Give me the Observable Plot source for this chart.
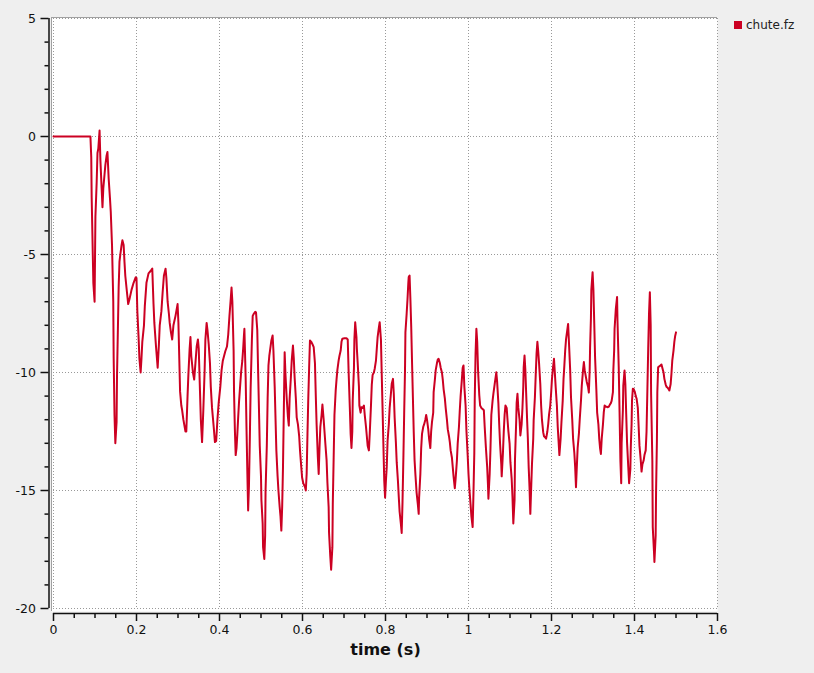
<!DOCTYPE html>
<html><head><meta charset="utf-8">
<script src="https://cdn.jsdelivr.net/npm/d3@7"></script>
<script src="https://cdn.jsdelivr.net/npm/@observablehq/plot@0.6"></script>
<style>
html,body{margin:0;padding:0;background:#efefef;overflow:hidden;}
#wrap{position:relative;width:814px;height:673px;font-family:"DejaVu Sans",sans-serif;}
#legend{position:absolute;left:734px;top:19px;height:12px;line-height:12px;display:flex;align-items:center;font-size:12px;color:#222;}
#legend .sw{width:8px;height:8px;margin-right:4px;}
</style></head><body><div id="wrap"><div id="legend"><span class="sw"></span><span id="lgtext"></span></div></div>
<script>
const seriesName = "chute.fz";
const xLabel = "time (s)";
const lineColor = "#cc0022";

// [time (s), chute.fz]
const chuteFz = [
[0,0],[0.089,0],[0.091,-0.9],[0.092,-2.6],[0.094,-4.4],[0.096,-6.2],[0.099,-7.0],[0.101,-3.4],[0.104,-1.95],[0.106,-0.7],[0.108,-0.5],[0.111,0.25],
[0.113,-1.0],[0.116,-2.2],[0.118,-3.0],[0.120,-2.2],[0.123,-1.6],[0.125,-1.2],[0.128,-0.8],[0.130,-0.66],[0.133,-1.8],[0.136,-2.6],[0.138,-3.2],
[0.141,-4.6],[0.144,-7.0],[0.145,-9.4],[0.147,-11.8],[0.149,-13.0],[0.152,-12.1],[0.153,-10.2],[0.155,-8.3],[0.157,-6.4],[0.159,-5.3],[0.161,-5.0],
[0.164,-4.6],[0.166,-4.4],[0.169,-4.6],[0.171,-5.3],[0.173,-5.9],[0.177,-6.6],[0.180,-7.1],[0.183,-6.9],[0.188,-6.5],[0.193,-6.2],[0.198,-5.97],
[0.200,-6.0],[0.202,-7.4],[0.205,-8.5],[0.207,-9.4],[0.210,-10.0],[0.212,-9.4],[0.214,-8.7],[0.218,-8.0],[0.220,-7.2],[0.224,-6.2],[0.229,-5.8],
[0.234,-5.7],[0.238,-5.6],[0.241,-7.1],[0.243,-7.9],[0.247,-8.9],[0.251,-9.8],[0.254,-8.8],[0.256,-8.0],[0.260,-7.4],[0.263,-6.6],[0.266,-5.9],
[0.270,-5.6],[0.272,-6.0],[0.275,-7.0],[0.278,-7.5],[0.280,-7.9],[0.283,-8.3],[0.286,-8.6],[0.289,-8.0],[0.294,-7.6],[0.299,-7.1],[0.301,-7.9],
[0.305,-10.8],[0.308,-11.4],[0.310,-11.6],[0.313,-12.0],[0.318,-12.5],[0.320,-12.5],[0.323,-11.0],[0.325,-10.1],[0.328,-9.0],[0.330,-8.5],
[0.332,-9.3],[0.336,-10.0],[0.339,-10.3],[0.342,-9.6],[0.345,-8.9],[0.348,-8.6],[0.350,-9.0],[0.353,-10.8],[0.355,-12.0],[0.358,-12.95],
[0.361,-11.6],[0.364,-10.0],[0.366,-8.6],[0.369,-7.9],[0.371,-8.2],[0.374,-8.8],[0.377,-9.6],[0.379,-10.6],[0.382,-11.5],[0.386,-12.3],
[0.389,-12.95],[0.392,-12.9],[0.395,-12.0],[0.398,-11.3],[0.402,-10.6],[0.405,-9.9],[0.408,-9.5],[0.411,-9.3],[0.414,-9.1],[0.418,-8.9],
[0.421,-8.4],[0.424,-7.6],[0.427,-6.9],[0.429,-6.4],[0.431,-7.0],[0.434,-9.07],[0.435,-10.8],[0.437,-12.4],[0.439,-13.5],[0.441,-13.2],
[0.443,-12.6],[0.445,-11.9],[0.447,-11.26],[0.450,-10.5],[0.452,-10.0],[0.455,-9.5],[0.457,-9.0],[0.459,-8.4],[0.460,-8.15],[0.463,-10.2],
[0.465,-12.3],[0.467,-14.15],[0.469,-15.85],[0.471,-14.8],[0.473,-12.9],[0.475,-10.7],[0.478,-8.64],[0.480,-7.6],[0.483,-7.5],[0.486,-7.43],
[0.488,-7.45],[0.491,-8.2],[0.493,-9.9],[0.495,-11.47],[0.497,-13.1],[0.500,-14.4],[0.501,-15.4],[0.504,-16.4],[0.505,-17.4],[0.508,-17.9],
[0.510,-16.9],[0.511,-15.0],[0.514,-13.1],[0.516,-11.1],[0.518,-9.7],[0.520,-9.3],[0.523,-8.9],[0.525,-8.64],[0.528,-8.43],[0.530,-9.1],
[0.533,-10.6],[0.535,-11.96],[0.537,-13.3],[0.540,-14.4],[0.542,-15.0],[0.545,-15.7],[0.547,-16.1],[0.549,-16.7],[0.551,-15.7],[0.553,-14.0],
[0.555,-11.6],[0.557,-9.14],[0.559,-10.1],[0.562,-11.1],[0.565,-11.9],[0.567,-12.25],[0.569,-11.1],[0.572,-10.2],[0.574,-9.5],[0.577,-8.86],
[0.579,-9.4],[0.581,-10.2],[0.584,-11.1],[0.586,-11.9],[0.589,-12.2],[0.592,-12.7],[0.594,-13.3],[0.597,-14.0],[0.599,-14.45],[0.602,-14.7],
[0.606,-14.85],[0.608,-15.0],[0.610,-14.3],[0.612,-12.6],[0.614,-11.05],[0.616,-9.8],[0.618,-8.64],[0.621,-8.7],[0.624,-8.8],[0.627,-8.93],
[0.630,-9.6],[0.632,-10.97],[0.634,-12.2],[0.637,-13.6],[0.639,-14.3],[0.641,-13.2],[0.643,-12.3],[0.646,-11.8],[0.648,-11.36],[0.651,-12.0],
[0.653,-12.5],[0.655,-13.0],[0.658,-13.7],[0.660,-14.65],[0.663,-15.7],[0.664,-16.8],[0.667,-17.8],[0.669,-18.36],[0.672,-17.4],[0.673,-15.56],
[0.675,-13.7],[0.677,-11.8],[0.680,-10.76],[0.682,-10.3],[0.684,-9.9],[0.687,-9.5],[0.689,-9.3],[0.692,-9.07],[0.694,-8.7],[0.696,-8.57],
[0.701,-8.55],[0.706,-8.55],[0.709,-8.6],[0.711,-9.9],[0.714,-11.47],[0.716,-12.6],[0.718,-13.2],[0.720,-12.5],[0.721,-11.2],[0.724,-9.8],
[0.725,-8.6],[0.727,-7.87],[0.730,-8.5],[0.731,-9.0],[0.733,-9.6],[0.736,-10.6],[0.737,-11.4],[0.740,-11.7],[0.742,-11.47],[0.745,-11.5],
[0.748,-11.4],[0.750,-11.8],[0.753,-12.3],[0.755,-12.7],[0.757,-13.1],[0.760,-13.3],[0.762,-12.6],[0.765,-11.4],[0.767,-10.5],[0.769,-10.1],
[0.772,-10.0],[0.774,-9.84],[0.777,-9.5],[0.779,-9.0],[0.781,-8.5],[0.784,-8.1],[0.786,-7.87],[0.789,-8.6],[0.791,-10.13],[0.793,-11.6],
[0.795,-13.1],[0.797,-14.6],[0.799,-15.3],[0.801,-14.6],[0.803,-14.0],[0.805,-12.9],[0.808,-12.2],[0.810,-11.5],[0.813,-10.9],[0.815,-10.48],
[0.818,-10.27],[0.820,-10.9],[0.822,-11.9],[0.825,-12.95],[0.827,-13.8],[0.830,-14.6],[0.832,-15.28],[0.834,-15.9],[0.837,-16.4],[0.839,-16.8],
[0.841,-15.5],[0.843,-13.7],[0.845,-11.75],[0.847,-9.9],[0.848,-8.3],[0.851,-7.5],[0.853,-6.9],[0.855,-6.2],[0.856,-5.95],[0.858,-5.89],
[0.860,-6.9],[0.862,-8.08],[0.864,-9.6],[0.866,-11.05],[0.868,-12.5],[0.870,-13.7],[0.872,-14.3],[0.875,-15.1],[0.878,-15.6],[0.880,-15.99],
[0.881,-15.3],[0.884,-14.3],[0.886,-13.2],[0.888,-12.6],[0.891,-12.3],[0.893,-12.2],[0.896,-12.0],[0.898,-11.8],[0.900,-12.0],[0.903,-12.4],
[0.905,-12.8],[0.908,-13.2],[0.910,-12.5],[0.912,-12.1],[0.915,-11.7],[0.916,-10.83],[0.919,-10.3],[0.921,-9.9],[0.924,-9.6],[0.926,-9.45],
[0.928,-9.42],[0.931,-9.6],[0.933,-9.8],[0.936,-10.0],[0.938,-10.3],[0.940,-10.7],[0.943,-11.1],[0.945,-11.5],[0.948,-12.0],[0.950,-12.4],
[0.953,-12.7],[0.955,-12.95],[0.957,-13.3],[0.960,-13.6],[0.962,-14.0],[0.964,-14.4],[0.967,-14.9],[0.969,-14.5],[0.972,-13.75],[0.974,-13.0],
[0.977,-12.3],[0.979,-11.6],[0.981,-11.0],[0.984,-10.3],[0.986,-9.8],[0.988,-9.7],[0.990,-10.6],[0.993,-11.4],[0.995,-12.46],[0.998,-13.5],
[1.000,-14.3],[1.002,-14.9],[1.005,-15.6],[1.007,-16.1],[1.010,-16.55],[1.012,-15.1],[1.014,-13.4],[1.015,-11.2],[1.017,-9.2],[1.019,-8.15],
[1.021,-8.7],[1.023,-9.9],[1.026,-10.97],[1.028,-11.4],[1.031,-11.5],[1.034,-11.55],[1.037,-11.6],[1.039,-12.3],[1.042,-13.2],[1.045,-14.0],
[1.047,-14.8],[1.048,-15.35],[1.051,-14.3],[1.053,-13.2],[1.055,-11.8],[1.058,-11.2],[1.060,-10.9],[1.063,-10.5],[1.067,-9.99],[1.069,-10.4],
[1.072,-11.3],[1.074,-12.2],[1.076,-13.0],[1.079,-13.9],[1.080,-14.4],[1.083,-13.4],[1.085,-12.5],[1.087,-11.8],[1.089,-11.4],[1.092,-11.5],
[1.094,-12.0],[1.096,-12.46],[1.099,-13.0],[1.101,-13.8],[1.104,-14.5],[1.106,-15.28],[1.108,-16.4],[1.111,-15.4],[1.112,-13.7],[1.115,-12.03],
[1.116,-11.3],[1.118,-10.9],[1.120,-11.5],[1.123,-12.0],[1.125,-12.67],[1.128,-12.2],[1.130,-11.5],[1.132,-10.6],[1.133,-9.78],[1.135,-9.28],
[1.137,-9.9],[1.139,-10.9],[1.141,-11.9],[1.143,-12.8],[1.145,-14.0],[1.147,-14.86],[1.149,-15.99],[1.151,-14.9],[1.153,-13.87],[1.156,-12.8],
[1.157,-12.03],[1.160,-11.05],[1.162,-10.1],[1.164,-9.2],[1.166,-8.7],[1.168,-9.1],[1.170,-9.6],[1.173,-10.48],[1.175,-11.4],[1.177,-12.0],
[1.180,-12.53],[1.182,-12.7],[1.185,-12.75],[1.187,-12.8],[1.190,-12.5],[1.192,-12.2],[1.194,-11.8],[1.197,-11.4],[1.199,-10.9],[1.201,-10.3],
[1.203,-9.9],[1.206,-9.42],[1.208,-10.0],[1.210,-10.6],[1.213,-11.4],[1.215,-12.3],[1.217,-12.9],[1.219,-13.5],[1.222,-12.8],[1.224,-12.1],
[1.227,-11.2],[1.229,-10.27],[1.231,-9.7],[1.233,-9.07],[1.235,-8.6],[1.238,-8.2],[1.240,-7.94],[1.242,-8.7],[1.245,-9.9],[1.247,-11.05],
[1.250,-12.0],[1.252,-12.8],[1.255,-13.4],[1.257,-14.0],[1.259,-14.86],[1.261,-14.0],[1.263,-13.2],[1.266,-12.6],[1.268,-12.0],[1.271,-11.2],
[1.273,-10.55],[1.276,-9.9],[1.278,-9.56],[1.280,-9.9],[1.283,-10.2],[1.285,-10.4],[1.288,-10.6],[1.290,-10.85],[1.292,-9.9],[1.293,-8.93],
[1.295,-7.7],[1.296,-6.5],[1.299,-5.75],[1.301,-6.5],[1.303,-7.9],[1.305,-9.35],[1.308,-10.69],[1.310,-11.7],[1.313,-12.2],[1.315,-12.8],
[1.317,-13.2],[1.319,-13.45],[1.321,-12.8],[1.324,-12.2],[1.326,-11.68],[1.328,-11.4],[1.331,-11.45],[1.333,-11.45],[1.336,-11.47],[1.338,-11.45],
[1.341,-11.35],[1.343,-11.3],[1.345,-11.19],[1.348,-10.83],[1.349,-9.9],[1.351,-9.07],[1.352,-8.15],[1.355,-7.3],[1.358,-6.8],[1.359,-7.8],
[1.362,-9.78],[1.364,-11.68],[1.366,-13.73],[1.368,-14.69],[1.369,-13.0],[1.372,-11.6],[1.373,-10.55],[1.376,-9.92],[1.378,-10.5],[1.380,-11.75],
[1.382,-12.95],[1.385,-14.0],[1.387,-14.69],[1.390,-14.1],[1.391,-13.2],[1.393,-12.17],[1.394,-11.19],[1.396,-10.69],[1.398,-10.7],[1.401,-10.83],
[1.403,-11.0],[1.405,-11.1],[1.408,-11.5],[1.410,-12.3],[1.412,-13.1],[1.415,-13.7],[1.417,-14.2],[1.419,-13.9],[1.422,-13.73],[1.424,-13.5],
[1.427,-13.3],[1.429,-12.5],[1.431,-10.76],[1.433,-9.0],[1.435,-7.5],[1.437,-6.6],[1.439,-8.0],[1.440,-10.9],[1.443,-13.73],[1.444,-16.55],
[1.447,-17.6],[1.448,-18.03],[1.451,-16.9],[1.452,-15.0],[1.454,-12.88],[1.455,-10.83],[1.457,-9.78],[1.459,-9.75],[1.463,-9.7],[1.465,-9.66],
[1.467,-9.8],[1.470,-10.0],[1.472,-10.27],[1.475,-10.5],[1.477,-10.6],[1.480,-10.65],[1.482,-10.7],[1.484,-10.76],[1.487,-10.5],[1.489,-10.06],
[1.491,-9.5],[1.494,-9.07],[1.496,-8.7],[1.498,-8.45],[1.500,-8.3]
];

const xDomain = [0, 1.6];
const yDomain = [-20, 5];
const xMajor = [0, 0.2, 0.4, 0.6, 0.8, 1, 1.2, 1.4, 1.6];
const xMinor = [0.05, 0.1, 0.15, 0.25, 0.3, 0.35, 0.45, 0.5, 0.55, 0.65, 0.7, 0.75, 0.85, 0.9, 0.95, 1.05, 1.1, 1.15, 1.25, 1.3, 1.35, 1.45, 1.5, 1.55];
const yMajor = [5, 0, -5, -10, -15, -20];
const yMinor = [4, 3, 2, 1, -1, -2, -3, -4, -6, -7, -8, -9, -11, -12, -13, -14, -16, -17, -18, -19];

document.querySelector("#legend .sw").style.background = lineColor;
document.getElementById("lgtext").textContent = seriesName;

const gridStyle = {stroke: "#999", strokeOpacity: 1, strokeWidth: 1, strokeDasharray: "1,2"};

const chart = Plot.plot({
  width: 814,
  height: 673,
  marginLeft: 53,
  marginRight: 97,
  marginTop: 18,
  marginBottom: 65,
  style: {background: "transparent", fontFamily: "DejaVu Sans, sans-serif", color: "#111"},
  x: {domain: xDomain},
  y: {domain: yDomain},
  marks: [
    Plot.frame({fill: "white", stroke: null, insetLeft: -2, insetTop: -1, insetBottom: -3}),
    Plot.gridX(xMajor, gridStyle),
    Plot.gridY(yMajor, gridStyle),
    Plot.ruleX([xDomain[0]], {dx: -2, stroke: "#a0a0a0", insetTop: -1, insetBottom: -3}),
    Plot.ruleY([yDomain[1]], {dy: -1, stroke: "#a0a0a0", insetLeft: -2}),
    // y axis
    Plot.ruleX([xDomain[0]], {y1: yDomain[0], y2: yDomain[1], dx: -4.5, stroke: "#111", strokeWidth: 1.5}),
    Plot.axisY(yMajor, {anchor: "left", tickSize: 8, dx: -4.5, tickPadding: 5, fontSize: 12.5, strokeWidth: 1.5, label: null, tickFormat: d => String(d)}),
    Plot.axisY(yMinor, {anchor: "left", tickSize: 4, dx: -4.5, strokeWidth: 1.5, label: null, tickFormat: () => ""}),
    // x axis
    Plot.ruleY([yDomain[0]], {x1: xDomain[0], x2: xDomain[1], dy: 5, stroke: "#111", strokeWidth: 1.5}),
    Plot.axisX(xMajor, {anchor: "bottom", tickSize: 8, dy: 5, tickPadding: 4, fontSize: 12.5, strokeWidth: 1.5, label: null, tickFormat: d => String(d)}),
    Plot.axisX(xMinor, {anchor: "bottom", tickSize: 5, dy: 5, strokeWidth: 1.5, label: null, tickFormat: () => ""}),
    Plot.text([xLabel], {frameAnchor: "bottom", dy: 41, fontSize: 16, fontWeight: "bold", lineAnchor: "middle", fill: "#111"}),
    // series
    Plot.line(chuteFz, {x: d => d[0], y: d => d[1], stroke: lineColor, strokeWidth: 2, curve: "linear"})
  ]
});
document.getElementById("wrap").prepend(chart);
</script>
</body></html>
